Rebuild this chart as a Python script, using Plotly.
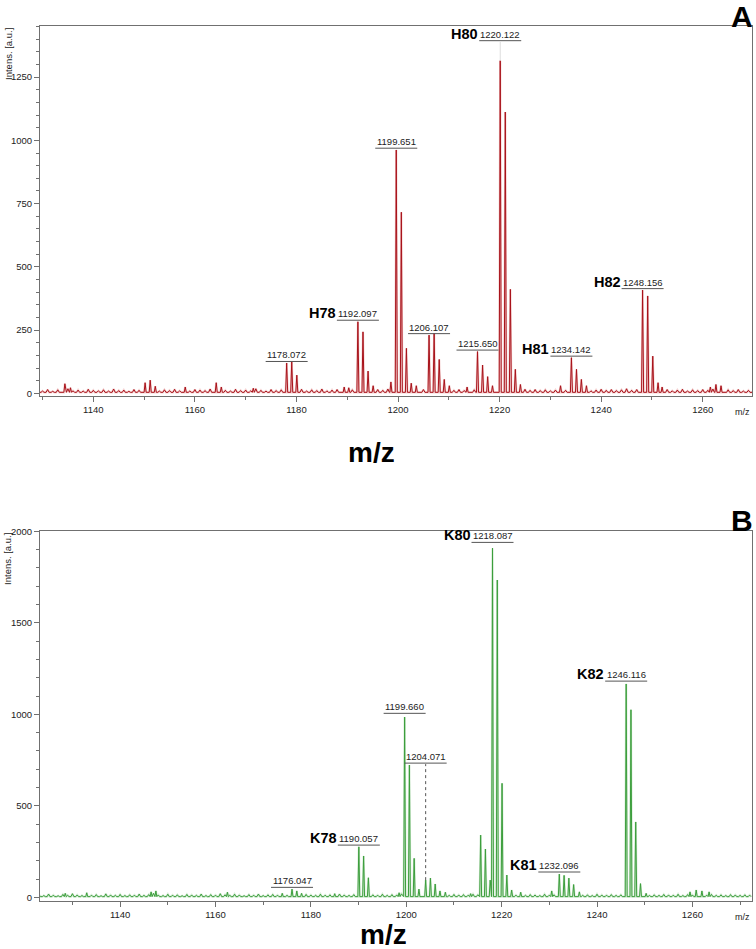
import plotly.graph_objects as go

# ---------------- Panel A (red) ----------------
A_PEAK_MZ = [1178.072, 1179.07, 1180.07, 1192.097, 1193.10, 1194.10,
             1199.651, 1200.65, 1201.65, 1206.107, 1207.11, 1208.11,
             1215.650, 1216.65, 1220.122, 1221.12, 1222.12,
             1234.142, 1235.14, 1248.156, 1249.16, 1250.16]
A_PEAK_INT = [120, 125, 72, 283, 243, 88,
              962, 716, 178, 230, 237, 134,
              165, 112, 1315, 1112, 411,
              141, 95, 408, 385, 147]
A_MINOR_MZ = [1134.4, 1135.5, 1150.2, 1151.2, 1152.2, 1158.1, 1164.2, 1165.2,
              1171.5, 1189.4, 1190.3, 1195.1, 1198.6, 1202.6, 1203.6, 1209.1,
              1210.1, 1213.6, 1217.65, 1218.6, 1223.1, 1224.1, 1232.0, 1236.1,
              1237.1, 1251.2, 1252.0, 1261.5, 1262.6, 1263.6]
A_MINOR_INT = [38, 22, 42, 52, 28, 25, 42, 25,
               20, 25, 22, 30, 45, 40, 30, 55,
               30, 25, 66, 30, 95, 35, 30, 55,
               30, 42, 25, 25, 35, 30]
A_NOISE_MZ = list(range(1129, 1271))
A_NOISE = [12, 9, 15, 8, 14, 11, 18, 10, 13, 9,
           16, 12, 10, 14, 9, 17, 11, 13, 8, 15,
           12, 10, 19, 13, 9, 14, 11, 16, 10, 12,
           9, 15, 13, 11, 17, 10, 14, 12, 9, 16,
           11, 13, 10, 18, 12, 9, 15, 11, 14, 10,
           13, 12, 16, 9, 14, 11, 17, 10, 13, 15,
           12, 18, 14, 11, 16, 13, 19, 15, 12, 17,
           14, 20, 16, 13, 18, 12, 15, 17, 14, 19,
           13, 16, 12, 15, 11, 17, 14, 18, 13, 16,
           15, 19, 17, 14, 18, 13, 16, 12, 15, 11,
           14, 10, 13, 16, 12, 15, 11, 14, 17, 10,
           13, 16, 12, 15, 11, 14, 18, 12, 15, 13,
           16, 12, 14, 11, 15, 10, 13, 16, 9, 14,
           11, 15, 12, 17, 13, 10, 14, 11, 15, 9,
           12, 10]
A_LABEL_MZ = [1178.072, 1192.097, 1199.651, 1206.107, 1215.650, 1220.122, 1234.142, 1248.156]
A_LABEL_TEXT = ["1178.072", "1192.097", "1199.651", "1206.107", "1215.650", "1220.122", "1234.142", "1248.156"]
A_LABEL_NAME = ["", "H78", "", "", "", "H80", "H81", "H82"]
A_LABEL_LEVEL = [122, 285, 965, 232, 167, 1390, 143, 410]
A_LABEL_PEAK = [120, 283, 962, 230, 165, 1315, 141, 408]

# ---------------- Panel B (green) ----------------
B_PEAK_MZ = [1176.047, 1177.05, 1178.05, 1190.057, 1191.06, 1192.06,
             1199.660, 1200.66, 1201.66, 1202.66, 1204.071, 1205.07, 1206.07, 1207.07,
             1215.6, 1216.6, 1217.6, 1218.087, 1219.09, 1220.09, 1221.09, 1222.1,
             1232.096, 1233.10, 1234.10, 1235.10,
             1246.116, 1247.12, 1248.12, 1249.12]
B_PEAK_INT = [45, 35, 22, 276, 226, 107,
              985, 723, 213, 45, 94, 105, 73, 35,
              340, 264, 94, 1908, 1734, 623, 122, 40,
              127, 120, 105, 70,
              1166, 1025, 412, 75]
B_MINOR_MZ = [1128.5, 1133.0, 1146.5, 1147.5, 1162.5, 1174.0, 1185.0, 1198.5,
              1208.2, 1213.5, 1224.0, 1230.5, 1236.3, 1250.3, 1259.5, 1260.8,
              1262.0, 1263.5]
B_MINOR_INT = [22, 25, 30, 35, 28, 22, 20, 25,
               28, 20, 28, 35, 30, 22, 30, 40,
               35, 30]
B_NOISE_MZ = list(range(1123, 1273))
B_NOISE = [14, 10, 18, 12, 9, 16, 11, 20, 13, 10,
           17, 12, 15, 9, 19, 13, 11, 16, 10, 14,
           12, 18, 11, 15, 22, 13, 10, 17, 12, 14,
           9, 16, 13, 11, 18, 10, 15, 12, 20, 14,
           11, 17, 13, 9, 15, 12, 18, 10, 14, 16,
           12, 15, 11, 19, 14, 10, 16, 13, 11, 17,
           12, 14, 10, 18, 13, 11, 15, 12, 16, 10,
           14, 12, 17, 11, 15, 13, 19, 14, 12, 16,
           13, 18, 15, 12, 17, 14, 11, 16, 13, 15,
           12, 17, 14, 19, 16, 13, 18, 15, 20, 14,
           12, 16, 11, 15, 13, 10, 17, 12, 14, 18,
           13, 16, 12, 15, 11, 14, 10, 17, 13, 12,
           15, 11, 14, 16, 13, 18, 12, 15, 10, 14,
           11, 16, 13, 12, 17, 10, 15, 13, 18, 14,
           12, 16, 11, 14, 10, 15, 13, 11, 14, 12]
B_LABEL_MZ = [1176.047, 1190.057, 1199.660, 1204.071, 1218.087, 1232.096, 1246.116]
B_LABEL_TEXT = ["1176.047", "1190.057", "1199.660", "1204.071", "1218.087", "1232.096", "1246.116"]
B_LABEL_NAME = ["", "K78", "", "", "K80", "K81", "K82"]
B_LABEL_LEVEL = [49, 280, 1000, 728, 1934, 133, 1176]
B_LABEL_PEAK = [45, 276, 985, 94, 1908, 127, 1166]

RED = "#A8121A"
GREEN = "#3C9E3C"
FONT = "Liberation Sans, Arial, sans-serif"


def build_path(noise_mz, noise_int, peak_mz, peak_int, minor_mz, minor_int,
               hw=0.2, base=4):
    major = list(zip(peak_mz, peak_int)) + list(zip(minor_mz, minor_int))
    pts = []
    for m, v in major:
        pts += [(m - hw, base), (m, v), (m + hw, base)]
    for m, v in zip(noise_mz, noise_int):
        if all(abs(m - pm) > 0.45 for pm, _ in major):
            pts += [(m - 0.3, base), (m, v), (m + 0.3, base)]
    pts.sort(key=lambda p: p[0])
    return [p[0] for p in pts], [p[1] for p in pts]


fig = go.Figure()

ax, ay = build_path(A_NOISE_MZ, A_NOISE, A_PEAK_MZ, A_PEAK_INT, A_MINOR_MZ, A_MINOR_INT)
bx, by = build_path(B_NOISE_MZ, B_NOISE, B_PEAK_MZ, B_PEAK_INT, B_MINOR_MZ, B_MINOR_INT)

fig.add_trace(go.Scatter(x=ax, y=ay, mode="lines", line=dict(color="rgba(215,70,70,0.25)", width=2.2),
                         xaxis="x", yaxis="y", hoverinfo="skip"))
fig.add_trace(go.Scatter(x=ax, y=ay, mode="lines", line=dict(color=RED, width=1),
                         xaxis="x", yaxis="y"))
fig.add_trace(go.Scatter(x=bx, y=by, mode="lines", line=dict(color="rgba(90,180,90,0.25)", width=2.2),
                         xaxis="x2", yaxis="y2", hoverinfo="skip"))
fig.add_trace(go.Scatter(x=bx, y=by, mode="lines", line=dict(color=GREEN, width=1),
                         xaxis="x2", yaxis="y2"))

annotations = []
shapes = []


def add_labels(xr, yr, mzs, texts, names, levels, peaks, dashed_idx=None, faint_idx=None):
    for i, (m, t, n, lv, pk) in enumerate(zip(mzs, texts, names, levels, peaks)):
        annotations.append(dict(x=m, y=lv, xref=xr, yref=yr, text=t, showarrow=False,
                                yanchor="bottom", xanchor="center", yshift=0,
                                font=dict(family=FONT, size=9.5, color="#222")))
        shapes.append(dict(type="line", xref=xr, yref=yr, xsizemode="pixel", xanchor=m,
                           x0=-21, x1=21, ysizemode="pixel", yanchor=lv, y0=1, y1=1,
                           line=dict(color="#555", width=1)))
        if n:
            annotations.append(dict(x=m, y=lv, xref=xr, yref=yr, text="<b>" + n + "</b>",
                                    showarrow=False, yanchor="bottom", xanchor="right",
                                    xshift=-20, yshift=-2,
                                    font=dict(family=FONT, size=14.5, color="#000")))
        if dashed_idx is not None and i == dashed_idx:
            shapes.append(dict(type="line", xref=xr, yref=yr, x0=m, x1=m, y0=pk, y1=lv,
                               line=dict(color="#555", width=1, dash="3px,3px")))
        if faint_idx is not None and i == faint_idx:
            shapes.append(dict(type="line", xref=xr, yref=yr, x0=m, x1=m, y0=pk, y1=lv,
                               line=dict(color="#DDDDDD", width=1)))


add_labels("x", "y", A_LABEL_MZ, A_LABEL_TEXT, A_LABEL_NAME, A_LABEL_LEVEL, A_LABEL_PEAK, faint_idx=5)
add_labels("x2", "y2", B_LABEL_MZ, B_LABEL_TEXT, B_LABEL_NAME, B_LABEL_LEVEL, B_LABEL_PEAK, dashed_idx=3)

for xr, yr, ydom, big_x, big_y, big_anchor in [("x", "y", "y domain", 0.466, -0.15, "middle"),
                                                ("x2", "y2", "y2 domain", 0.482, -0.1297, "bottom")]:
    annotations.append(dict(x=1, y=0, xref=xr + " domain", yref=ydom, text="m/z", showarrow=False,
                            xanchor="right", yanchor="top", yshift=-9,
                            font=dict(family=FONT, size=9, color="#222")))
    annotations.append(dict(x=big_x, y=big_y, xref=xr + " domain", yref=ydom, text="<b>m/z</b>",
                            showarrow=False, xanchor="center", yanchor=big_anchor,
                            height=26, valign="middle",
                            font=dict(family=FONT, size=28, color="#000")))
    annotations.append(dict(x=-0.045, y=1, xref="paper", yref=ydom, text="Intens. [a.u.]",
                            showarrow=False, textangle=-90, xanchor="center", yanchor="top",
                            font=dict(family=FONT, size=9.5, color="#222")))

annotations.append(dict(x=0.9855, y=1.01086, xref="paper", yref="paper", text="<b>A</b>",
                        showarrow=False, xanchor="center", yanchor="middle",
                        height=24, valign="middle",
                        font=dict(family=FONT, size=30, color="#000")))
annotations.append(dict(x=0.9855, y=0.4354, xref="paper", yref="paper", text="<b>B</b>",
                        showarrow=False, xanchor="center", yanchor="middle",
                        height=24, valign="middle",
                        font=dict(family=FONT, size=30, color="#000")))

axis_common = dict(showline=True, linecolor="#707070", linewidth=1, mirror=True,
                   ticks="outside", ticklen=5, tickcolor="#707070", showgrid=False,
                   zeroline=False, tickfont=dict(family=FONT, size=9.5, color="#222"))

fig.update_layout(
    width=756, height=949,
    margin=dict(l=40, r=4, t=26, b=48),
    paper_bgcolor="white", plot_bgcolor="white",
    showlegend=False,
    xaxis=dict(domain=[0, 1], anchor="y", range=[1129.5, 1269.7], tick0=1140, dtick=20,
               minor=dict(dtick=10, tick0=1130, ticks="outside", ticklen=3, tickcolor="#707070"),
               **axis_common),
    yaxis=dict(domain=[0.5771, 1], anchor="x", range=[-10.7, 1452], tick0=0, dtick=250,
               minor=dict(dtick=50, tick0=0, ticks="outside", ticklen=3, tickcolor="#707070"),
               **axis_common),
    xaxis2=dict(domain=[0, 1], anchor="y2", range=[1123.2, 1272.5], tick0=1140, dtick=20,
                minor=dict(dtick=10, tick0=1130, ticks="outside", ticklen=3, tickcolor="#707070"),
                **axis_common),
    yaxis2=dict(domain=[0, 0.4229], anchor="x2", range=[-20, 2002], tick0=0, dtick=500,
                minor=dict(dtick=100, tick0=0, ticks="outside", ticklen=3, tickcolor="#707070"),
                **axis_common),
    annotations=annotations,
    shapes=shapes,
)

fig.write_html("out.html", config={"displayModeBar": False},
               post_script="document.body.style.margin='0px';")
